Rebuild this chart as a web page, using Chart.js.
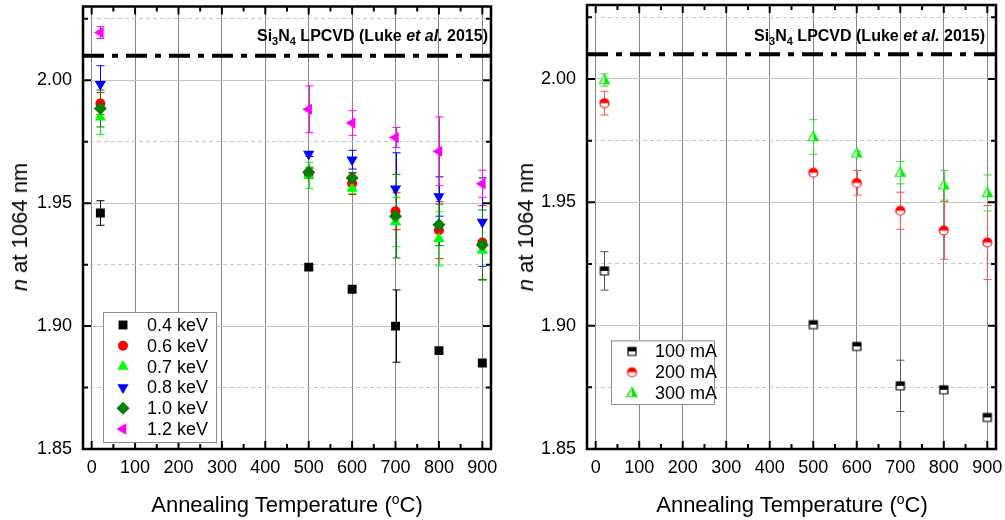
<!DOCTYPE html>
<html>
<head>
<meta charset="utf-8">
<script src="https://cdn.jsdelivr.net/npm/chart.js@4/dist/chart.umd.min.js"></script>
<style>
  body { margin: 0; width: 1005px; height: 520px; position: relative; background: #fff; overflow: hidden;
         font-family: "Liberation Sans", Arial, sans-serif; color: #000; }
  .pane { position: absolute; top: 0; }
  .xt { position: absolute; top: 505px; font-size: 22px; white-space: nowrap; transform: translate(-50%, -50%); }
  .yt { position: absolute; top: 227px; font-size: 22px; white-space: nowrap; transform: translate(-50%, -50%) rotate(-90deg); }
  .note { position: absolute; top: 27px; font-size: 16px; font-weight: bold; white-space: nowrap; }
  sup { font-size: 14px; vertical-align: 8px; line-height: 0; }
  sub { font-size: 11px; vertical-align: -4px; line-height: 0; }
</style>
</head>
<body>
<div class="pane" style="left:0"><canvas id="left" width="500" height="520" style="width:500px;height:520px"></canvas></div>
<div class="pane" style="left:500px"><canvas id="right" width="505" height="520" style="width:505px;height:520px"></canvas></div>

<div class="xt" style="left:287px">Annealing Temperature (<sup>o</sup>C)</div>
<div class="xt" style="left:792px">Annealing Temperature (<sup>o</sup>C)</div>
<div class="yt" style="left:20px"><i>n</i> at 1064 nm</div>
<div class="yt" style="left:526px"><i>n</i> at 1064 nm</div>
<div class="note" style="right:517px">Si<sub>3</sub>N<sub>4</sub> LPCVD (Luke <i>et al.</i> 2015)</div>
<div class="note" style="right:20px">Si<sub>3</sub>N<sub>4</sub> LPCVD (Luke <i>et al.</i> 2015)</div>

<script>
// annealing temperatures (as-deposited ~20 C)
const temps = [20, 500, 600, 700, 800, 900];

// left panel: ion energy series
const n04 = [1.946, 1.924, 1.915, 1.900, 1.890, 1.885];
const e04 = [0.005, 0.001, 0.001, 0.0147, 0.001, 0.001];
const n06 = [1.9905, 1.962, 1.958, 1.9467, 1.939, 1.934];
const e06 = [0.0045, 0.002, 0.0045, 0.0075, 0.0116, 0.015];
const n07 = [1.985, 1.9613, 1.956, 1.9423, 1.9355, 1.9307];
const e07 = [0.007, 0.0053, 0.002, 0.010, 0.011, 0.012];
const n08 = [1.9984, 1.970, 1.9677, 1.9559, 1.9527, 1.9423];
const e08 = [0.0075, 0.001, 0.0038, 0.0146, 0.008, 0.018];
const n10 = [1.9885, 1.9626, 1.9602, 1.9447, 1.9412, 1.933];
const e10 = [0.0075, 0.002, 0.002, 0.017, 0.0084, 0.0142];
const n12 = [2.0194, 1.9882, 1.9826, 1.9767, 1.9711, 1.9579];
const e12 = [0.0024, 0.0095, 0.005, 0.0041, 0.014, 0.0055];

// right panel: beam current series
const m100 = [1.9222, 1.9004, 1.8916, 1.8756, 1.874, 1.8628];
const f100 = [0.0078, 0.001, 0.001, 0.0104, 0.001, 0.001];
const m200 = [1.9902, 1.962, 1.9579, 1.9466, 1.9386, 1.9337];
const f200 = [0.0048, 0.001, 0.005, 0.0075, 0.0117, 0.015];
const m300 = [1.9996, 1.9765, 1.9698, 1.962, 1.9569, 1.9538];
const f300 = [0.0025, 0.007, 0.001, 0.0045, 0.006, 0.0073];

// LPCVD reference line
const refX = [-20, 920];
const refN = 2.01;

const xTicks = [0, 100, 200, 300, 400, 500, 600, 700, 800, 900];

const FONT = '"Liberation Sans", Arial, sans-serif';
const isMajor = v => Math.abs(v / 0.05 - Math.round(v / 0.05)) < 1e-6;

function pts(ys) { return temps.map((t, i) => ({ x: t, y: ys[i] })); }

// half-filled marker images for the right panel
function halfMarker(shape, color, size) {
  const c = document.createElement('canvas');
  const s = size + 4;
  c.width = c.height = s;
  const g = c.getContext('2d');
  const m = s / 2, r = size / 2;
  const path = () => {
    g.beginPath();
    if (shape === 'square') g.rect(m - r, m - r, 2 * r, 2 * r);
    else if (shape === 'circle') g.arc(m, m, r, 0, Math.PI * 2);
    else { g.moveTo(m, m - r * 1.1); g.lineTo(m + r, m + r * 0.75); g.lineTo(m - r, m + r * 0.75); g.closePath(); }
  };
  path(); g.fillStyle = '#fff'; g.fill();
  g.save(); path(); g.clip();
  g.fillStyle = color;
  if (shape === 'triangle') g.fillRect(m, 0, s, s);
  else g.fillRect(0, 0, s, m);
  g.restore();
  path(); g.lineWidth = 1.2; g.strokeStyle = color; g.stroke();
  return c;
}

const errorBars = {
  id: 'errorBars',
  beforeDatasetsDraw(chart) {
    const { ctx, scales: { x, y } } = chart;
    ctx.save();
    chart.data.datasets.forEach(ds => {
      if (!ds.err) return;
      ctx.strokeStyle = ds.errColor || ds.borderColor;
      ctx.lineWidth = 1;
      ds.data.forEach((p, i) => {
        const px = Math.round(x.getPixelForValue(p.x)) + 0.5;
        const y1 = y.getPixelForValue(p.y + ds.err[i]);
        const y2 = y.getPixelForValue(p.y - ds.err[i]);
        ctx.beginPath();
        ctx.moveTo(px, y1); ctx.lineTo(px, y2);
        ctx.moveTo(px - 4, y1); ctx.lineTo(px + 4, y1);
        ctx.moveTo(px - 4, y2); ctx.lineTo(px + 4, y2);
        ctx.stroke();
      });
    });
    ctx.restore();
  }
};

const frame = {
  id: 'frame',
  afterDatasetsDraw(chart) {
    const { ctx, chartArea: a, scales: { x, y } } = chart;
    ctx.save();
    ctx.strokeStyle = '#000';
    ctx.lineWidth = 2;
    ctx.beginPath();
    for (let v = 0; v <= 900; v += 50) {
      const px = x.getPixelForValue(v);
      const len = v % 100 === 0 ? 8 : 5;
      ctx.moveTo(px, a.bottom); ctx.lineTo(px, a.bottom - len);
      ctx.moveTo(px, a.top); ctx.lineTo(px, a.top + len);
    }
    y.ticks.forEach(t => {
      const py = y.getPixelForValue(t.value);
      const len = isMajor(t.value) ? 8 : 5;
      ctx.moveTo(a.left, py); ctx.lineTo(a.left + len, py);
      ctx.moveTo(a.right, py); ctx.lineTo(a.right - len, py);
    });
    ctx.stroke();
    ctx.lineWidth = 2.5;
    ctx.strokeRect(a.left, a.top, a.right - a.left, a.bottom - a.top);
    ctx.restore();
  }
};

const boxLegend = {
  id: 'boxLegend',
  afterDraw(chart, args, opts) {
    const { ctx, chartArea: a } = chart;
    const items = chart.data.datasets.filter(d => d.label);
    const left = a.left + opts.dx, bottom = a.bottom - opts.dy;
    const h = opts.pad * 2 + opts.row * (items.length - 1) + 10;
    const top = bottom - h;
    ctx.save();
    ctx.fillStyle = '#fff';
    ctx.fillRect(left, top, opts.w, h);
    ctx.strokeStyle = '#8c8c8c';
    ctx.lineWidth = 1;
    ctx.strokeRect(left + 0.5, top + 0.5, opts.w, h);
    ctx.font = '18px ' + FONT;
    ctx.textBaseline = 'middle';
    items.forEach((d, i) => {
      const cy = top + opts.pad + 5 + i * opts.row;
      ctx.fillStyle = d.backgroundColor;
      ctx.strokeStyle = d.borderColor;
      Chart.helpers.drawPoint(ctx, {
        pointStyle: d.pointStyle, radius: d.pointRadius, rotation: d.rotation || 0, borderWidth: 0
      }, left + opts.mx, cy);
      ctx.fillStyle = '#000';
      ctx.fillText(d.label, left + opts.tx, cy + 1);
    });
    ctx.restore();
  }
};

function series(label, ys, err, color, style, radius, rotation, order, errColor) {
  return {
    label, data: pts(ys), err, errColor,
    backgroundColor: color, borderColor: color, borderWidth: 0,
    pointStyle: style, pointRadius: radius, pointRotation: rotation || 0, rotation: rotation || 0,
    showLine: false, order
  };
}

function refLine() {
  return {
    label: '', data: refX.map(v => ({ x: v, y: refN })), showLine: true,
    borderColor: '#000', borderWidth: 4, borderDash: [21, 8, 6, 8], pointRadius: 0, order: 20
  };
}

function options(yWidth, padRight, legendOpts) {
  return {
    responsive: false,
    animation: false,
    layout: { padding: { left: 0, top: 5, right: padRight, bottom: 0 } },
    plugins: { legend: { display: false }, tooltip: { enabled: false }, boxLegend: legendOpts },
    scales: {
      x: {
        type: 'linear', min: -20, max: 920,
        afterFit: s => { s.height = 71; s.paddingLeft = 0; s.paddingRight = 0; },
        afterBuildTicks: s => { s.ticks = xTicks.map(v => ({ value: v })); },
        ticks: { font: { size: 18, family: FONT }, color: '#000', padding: 8, maxRotation: 0 },
        grid: { color: '#858585', lineWidth: 1, drawTicks: false },
        border: { display: false }
      },
      y: {
        type: 'linear', min: 1.85, max: 2.03,
        afterFit: s => { s.width = yWidth; s.paddingTop = 0; s.paddingBottom = 0; },
        ticks: {
          stepSize: 0.025, includeBounds: false,
          font: { size: 18, family: FONT }, color: '#000', padding: 11,
          callback: v => isMajor(v) ? v.toFixed(2) : ''
        },
        grid: { color: c => isMajor(c.tick.value) ? '#c4c4c4' : '#c8c8c8', lineWidth: 1, drawTicks: false },
        border: { display: false, dash: c => (c.tick && !isMajor(c.tick.value)) ? [4, 3] : [] }
      }
    }
  };
}

new Chart(document.getElementById('left'), {
  type: 'scatter',
  data: {
    datasets: [
      series('0.4 keV', n04, e04, '#000000', 'rect', 6.3, 0, 6),
      series('0.6 keV', n06, e06, '#ff0000', 'circle', 5, 0, 5),
      series('0.7 keV', n07, e07, '#00ff00', 'triangle', 6.5, 0, 4),
      series('0.8 keV', n08, e08, '#0000ff', 'triangle', 6.5, 180, 3),
      series('1.0 keV', n10, e10, '#007f00', 'rectRot', 6.5, 0, 2),
      series('1.2 keV', n12, e12, '#ff00ff', 'triangle', 6.5, -90, 1),
      refLine()
    ]
  },
  options: options(83, 9, { dx: 20, dy: 7, w: 113, row: 20.8, pad: 8, mx: 20, tx: 44 }),
  plugins: [errorBars, frame, boxLegend]
});

const sq = halfMarker('square', '#000000', 8);
const ci = halfMarker('circle', '#ff0000', 9);
const tr = halfMarker('triangle', '#00ee00', 10);

new Chart(document.getElementById('right'), {
  type: 'scatter',
  data: {
    datasets: [
      series('100 mA', m100, f100, '#000000', sq, 5, 0, 3, '#555'),
      series('200 mA', m200, f200, '#ff0000', ci, 5, 0, 2, '#ff5050'),
      series('300 mA', m300, f300, '#00ee00', tr, 5, 0, 1, '#33dd33'),
      refLine()
    ]
  },
  options: options(87, 9, { dx: 24, dy: 45, w: 103, row: 20.8, pad: 6, mx: 21, tx: 44 }),
  plugins: [errorBars, frame, boxLegend]
});
</script>
</body>
</html>
